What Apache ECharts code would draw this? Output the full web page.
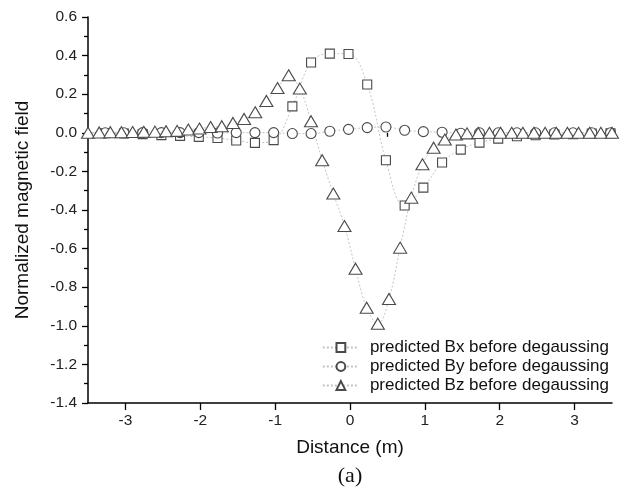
<!DOCTYPE html>
<html>
<head>
<meta charset="utf-8">
<script src="https://cdn.jsdelivr.net/npm/echarts@6/dist/echarts.min.js"></script>
<style>
html,body{margin:0;padding:0;background:#fff;}
#chart{width:625px;height:494px;}
</style>
</head>
<body>
<div id="chart"></div>
<script>
// Bx / By sample positions (m)
var xBxBy = [-3.52,-3.27,-3.02,-2.77,-2.52,-2.27,-2.02,-1.77,-1.52,-1.27,-1.02,-0.77,-0.52,-0.27,-0.02,
  0.23,0.48,0.73,0.98,1.23,1.48,1.73,1.98,2.23,2.48,2.73,2.98,3.23,3.48];
var bxValues = [0.000,-0.002,-0.004,-0.007,-0.012,-0.016,-0.021,-0.027,-0.040,-0.052,-0.038,0.137,0.364,0.410,0.408,
  0.250,-0.142,-0.377,-0.284,-0.154,-0.087,-0.051,-0.030,-0.018,-0.013,-0.009,-0.007,-0.004,-0.003];
var byValues = [0.000,0.000,0.000,0.001,0.001,0.001,0.001,-0.001,0.001,0.001,0.001,-0.004,-0.004,0.008,0.018,
  0.027,0.030,0.013,0.006,0.003,-0.002,0.000,0.000,0.000,0.000,0.000,0.000,0.000,0.000];
// Bz sample positions (m)
var xBz = [-3.500,-3.351,-3.202,-3.053,-2.904,-2.755,-2.606,-2.457,-2.309,-2.160,-2.011,-1.862,-1.713,-1.564,-1.415,-1.266,
  -1.117,-0.968,-0.819,-0.670,-0.521,-0.372,-0.223,-0.074,0.074,0.223,0.372,0.521,0.670,0.819,0.968,1.117,
  1.266,1.415,1.564,1.713,1.862,2.011,2.160,2.309,2.457,2.606,2.755,2.904,3.053,3.202,3.351,3.500];
var bzValues = [0.000,0.002,0.003,0.003,0.004,0.005,0.006,0.008,0.010,0.017,0.022,0.030,0.034,0.051,0.072,0.106,
  0.165,0.232,0.298,0.229,0.060,-0.142,-0.315,-0.483,-0.704,-0.906,-0.989,-0.861,-0.595,-0.336,-0.163,-0.077,
  -0.035,-0.009,-0.003,-0.001,0.000,0.000,0.000,0.000,0.000,0.000,0.000,0.000,0.000,0.000,0.000,0.000];

var xMajorTicks = [-3,-2,-1,0,1,2,3];
var xMinorTicks = [-3.5,-2.5,-1.5,-0.5,0.5,1.5,2.5,3.5];
var seriesNames = ['predicted Bx before degaussing','predicted By before degaussing','predicted Bz before degaussing'];

function pairs(xs, ys){ return xs.map(function(x,i){ return [x, ys[i]]; }); }

var lineStyle = {color:'#c4c4c4', width:1, type:[2,2]};
var itemStyle = {color:'#ffffff', borderColor:'#4a4a4a', borderWidth:1.1};

var chart = echarts.init(document.getElementById('chart'), null, {renderer:'canvas'});
chart.setOption({
  backgroundColor:'#ffffff',
  animation:false,
  textStyle:{fontFamily:'Liberation Sans, Arial, sans-serif'},
  grid:{left:88, right:13, top:17, bottom:91, containLabel:false},
  legend:{
    orient:'vertical',
    right:11, top:334,
    itemWidth:36, itemHeight:11, itemGap:2,
    textStyle:{fontSize:17, color:'#111', fontFamily:'Liberation Sans, Arial, sans-serif', padding:[0,0,0,6]},
    data:seriesNames
  },
  xAxis:[{
    type:'value', min:-3.5, max:3.5,
    name:'Distance (m)', nameLocation:'middle', nameGap:35,
    nameTextStyle:{fontSize:19, color:'#111'},
    axisLine:{show:true, onZero:false, lineStyle:{color:'#000', width:1.5}},
    axisTick:{show:true, length:7, lineStyle:{color:'#000', width:1.3}, customValues:xMajorTicks},
    axisLabel:{fontSize:15.5, color:'#222', margin:10, customValues:xMajorTicks},
    splitLine:{show:false}
  },{
    type:'value', min:-3.5, max:3.5, position:'bottom',
    axisLine:{show:false},
    axisTick:{show:true, length:4, lineStyle:{color:'#000', width:1.3}, customValues:xMinorTicks},
    axisLabel:{show:false},
    splitLine:{show:false}
  }],
  yAxis:{
    type:'value', min:-1.4, max:0.6, interval:0.2,
    name:'Normalized magnetic field', nameLocation:'middle', nameGap:56,
    nameTextStyle:{fontSize:19, color:'#111'},
    axisLine:{show:true, onZero:false, lineStyle:{color:'#000', width:1.5}},
    axisTick:{show:true, length:6, lineStyle:{color:'#000', width:1.3}},
    minorTick:{show:true, splitNumber:2, length:4, lineStyle:{color:'#000', width:1.3}},
    axisLabel:{fontSize:15.5, color:'#222', margin:11, formatter:function(v){ return v.toFixed(1); }},
    splitLine:{show:false}
  },
  graphic:[{
    type:'text', x:350, y:476,
    style:{text:'(a)', font:'22px "Liberation Serif", "Times New Roman", serif', fill:'#111', align:'center', verticalAlign:'middle'}
  }],
  series:[{
    name:seriesNames[0], type:'line', smooth:0.4, data:pairs(xBxBy,bxValues),
    symbol:'rect', symbolSize:9, lineStyle:lineStyle, itemStyle:itemStyle
  },{
    name:seriesNames[1], type:'line', smooth:0.4, data:pairs(xBxBy,byValues),
    symbol:'circle', symbolSize:10, lineStyle:lineStyle, itemStyle:itemStyle
  },{
    name:seriesNames[2], type:'line', smooth:0.4, data:pairs(xBz,bzValues),
    symbol:'triangle', symbolSize:[13,11], lineStyle:lineStyle, itemStyle:itemStyle
  }]
});
</script>
</body>
</html>
